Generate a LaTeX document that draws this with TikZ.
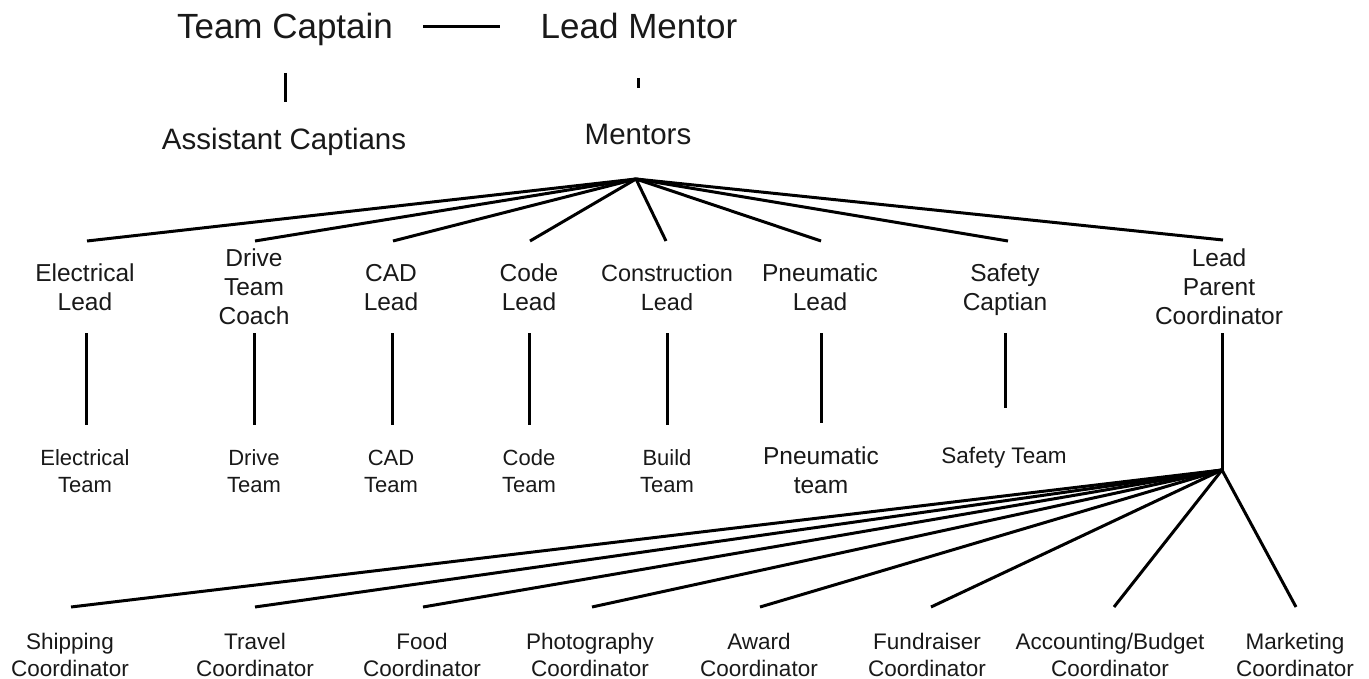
\documentclass[tikz,border=0pt]{standalone}
\usepackage{fontspec}
\setmainfont{Liberation Sans}
\begin{document}
\begin{tikzpicture}[x=1pt,y=-1pt,
  lbl/.style={inner sep=0pt, outer sep=0pt, align=center, text=black!90},
  big/.style={lbl, font=\fontsize{35}{42}\selectfont, anchor=base},
  mid/.style={lbl, font=\fontsize{29.5}{35}\selectfont, anchor=base},
  lead/.style={lbl, font=\fontsize{24.5}{29}\selectfont, anchor=north},
  team/.style={lbl, font=\fontsize{22}{27}\selectfont, anchor=north},
  coordbox/.style={lbl, font=\fontsize{22.5}{27}\selectfont, anchor=north},
  conn/.style={line width=3pt, black}]
\useasboundingbox[fill=white] (0,0) rectangle (1369,679);

% top level
\node[big] (tc) at (285,39) {Team Captain};
\node[big] (lm) at (639,39) {Lead Mentor};
\node[mid] (ac) at (284,150) {Assistant Captians};
\node[mid] (mt) at (638,145) {Mentors};

\coordinate (tcR) at (423,27);
\coordinate (lmL) at (500,27);
\draw[conn] (tcR) -- (lmL);
\coordinate (tcB) at (285,73);
\coordinate (acT) at (285,102);
\draw[conn] (tcB) -- (acT);
\coordinate (lmB) at (638,78);
\coordinate (mtT) at (638,88);
\draw[conn] (lmB) -- (mtT);

% leads
\node[lead] (l1) at (85,264) {Electrical\\Lead};
\node[lead] (l2) at (254,249) {Drive\\Team\\Coach};
\node[lead] (l3) at (391,264) {CAD\\Lead};
\node[lead] (l4) at (529,264) {Code\\Lead};
\node[lead,font=\fontsize{23.5}{29}\selectfont] (l5) at (667,264) {Construction\\Lead};
\node[lead] (l6) at (820,264) {Pneumatic\\Lead};
\node[lead] (l7) at (1005,264) {Safety\\Captian};
\node[lead] (l8) at (1219,249) {Lead\\Parent\\Coordinator};

\coordinate (mhub) at (636,179);
\coordinate (l1t) at (87,241);
\coordinate (l2t) at (255,241);
\coordinate (l3t) at (393,241);
\coordinate (l4t) at (530,241);
\coordinate (l5t) at (666,241);
\coordinate (l6t) at (821,241);
\coordinate (l7t) at (1008,241);
\coordinate (l8t) at (1223,240);
\foreach \t in {l1t,l2t,l3t,l4t,l5t,l6t,l7t,l8t}
  \draw[conn] (mhub) -- (\t);

% teams
\node[team] (t1) at (85,450) {Electrical\\Team};
\node[team] (t2) at (254,450) {Drive\\Team};
\node[team] (t3) at (391,450) {CAD\\Team};
\node[team] (t4) at (529,450) {Code\\Team};
\node[team] (t5) at (667,450) {Build\\Team};
\node[team,font=\fontsize{24.5}{29}\selectfont] (t6) at (821,447) {Pneumatic\\team};
\node[team,font=\fontsize{22.5}{27}\selectfont] (t7) at (1004,447) {Safety Team};

\coordinate (v1a) at (86,333);  \coordinate (v1b) at (86,425);
\coordinate (v2a) at (254,333); \coordinate (v2b) at (254,425);
\coordinate (v3a) at (392,333); \coordinate (v3b) at (392,425);
\coordinate (v4a) at (529,333); \coordinate (v4b) at (529,425);
\coordinate (v5a) at (667,333); \coordinate (v5b) at (667,425);
\coordinate (v6a) at (821,333); \coordinate (v6b) at (821,423);
\coordinate (v7a) at (1005,333); \coordinate (v7b) at (1005,408);
\coordinate (v8a) at (1222,333); \coordinate (phub) at (1222,470);
\draw[conn] (v1a) -- (v1b);
\draw[conn] (v2a) -- (v2b);
\draw[conn] (v3a) -- (v3b);
\draw[conn] (v4a) -- (v4b);
\draw[conn] (v5a) -- (v5b);
\draw[conn] (v6a) -- (v6b);
\draw[conn] (v7a) -- (v7b);
\draw[conn] (v8a) -- (phub);

% coordinators
\node[coordbox] (c1) at (70,633) {Shipping\\Coordinator};
\node[coordbox] (c2) at (255,633) {Travel\\Coordinator};
\node[coordbox] (c3) at (422,633) {Food\\Coordinator};
\node[coordbox] (c4) at (590,633) {Photography\\Coordinator};
\node[coordbox] (c5) at (759,633) {Award\\Coordinator};
\node[coordbox] (c6) at (927,633) {Fundraiser\\Coordinator};
\node[coordbox] (c7) at (1110,633) {Accounting/Budget\\Coordinator};
\node[coordbox] (c8) at (1295,633) {Marketing\\Coordinator};

\coordinate (c1t) at (71,607);
\coordinate (c2t) at (255,607);
\coordinate (c3t) at (423,607);
\coordinate (c4t) at (592,607);
\coordinate (c5t) at (760,607);
\coordinate (c6t) at (931,607);
\coordinate (c7t) at (1114,607);
\coordinate (c8t) at (1296,607);
\foreach \t in {c1t,c2t,c3t,c4t,c5t,c6t,c7t,c8t}
  \draw[conn] (phub) -- (\t);
\end{tikzpicture}
\end{document}
